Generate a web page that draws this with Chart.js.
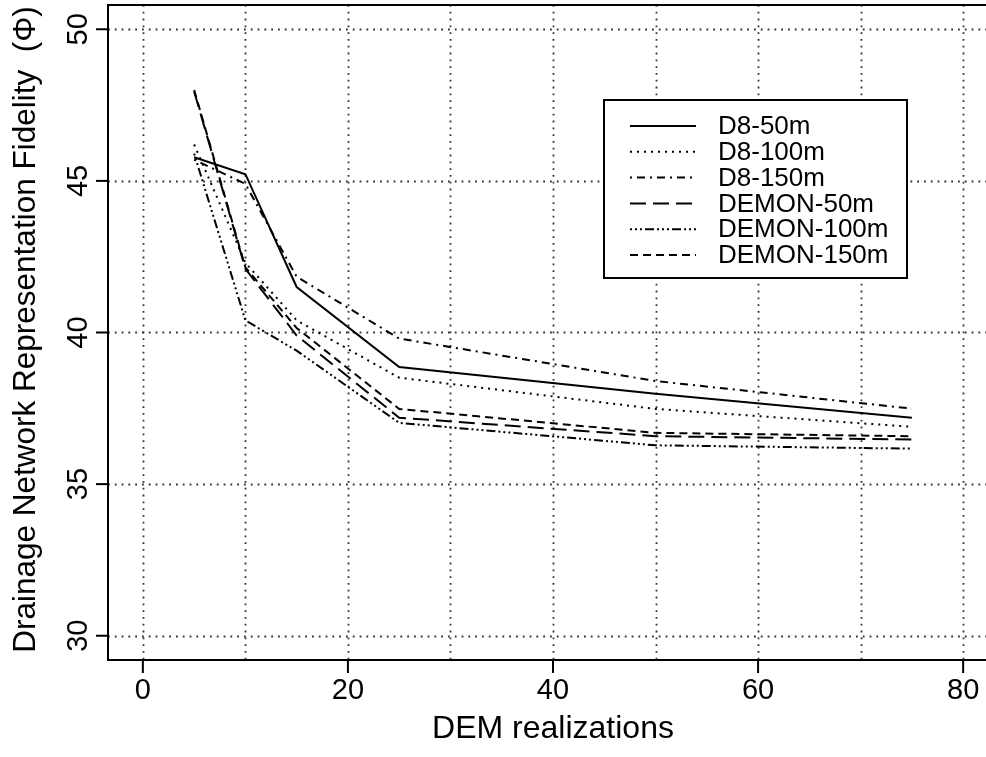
<!DOCTYPE html>
<html>
<head>
<meta charset="utf-8">
<script src="https://cdn.jsdelivr.net/npm/chart.js@4.4.0/dist/chart.umd.min.js"></script>
<style>
html, body { margin: 0; padding: 0; background: #fff; overflow: hidden; }
#wrap { position: absolute; left: 0; top: 0; width: 1010px; height: 757px; }
</style>
</head>
<body>
<div id="wrap"><canvas id="myChart" width="1010" height="757"></canvas></div>
<script>
// Daten
const realizations = [5, 10, 15, 25, 50, 75];
const d8_50 = [45.78, 45.22, 41.5, 38.86, 37.98, 37.19];
const d8_100 = [46.2, 42.3, 40.4, 38.51, 37.48, 36.89];
const d8_150 = [45.7, 44.9, 41.84, 39.8, 38.4, 37.49];
const demon_50 = [47.95, 42.1, 39.9, 37.19, 36.58, 36.47];
const demon_100 = [45.9, 40.4, 39.4, 37.02, 36.28, 36.17];
const demon_150 = [48.0, 42.15, 40.15, 37.48, 36.69, 36.58];
const seriesLabels = ['D8-50m', 'D8-100m', 'D8-150m', 'DEMON-50m', 'DEMON-100m', 'DEMON-150m'];
const xTickLabels = [0, 20, 40, 60, 80];
const xGridValues = [0, 10, 20, 30, 40, 50, 60, 70, 80];
const yTickLabels = [30, 35, 40, 45, 50];
const xTitle = 'DEM realizations';
const yTitle = 'Drainage Network Representation Fidelity  (\u03A6)';

// Linienstile wie in R (lty)
const dashes = [
    [],
    [2, 5],
    [2, 5, 8, 5],
    [16, 7],
    [2, 3, 2, 3, 2, 3, 9, 3],
    [8, 5]
];
const allSeries = [d8_50, d8_100, d8_150, demon_50, demon_100, demon_150];

const FONT = '"Liberation Sans", Arial, sans-serif';

function drawText(ctx, text, x, y, size, rot) {
    ctx.save();
    ctx.translate(x, y);
    if (rot) ctx.rotate(rot);
    ctx.font = size + 'px ' + FONT;
    ctx.fillStyle = '#000';
    ctx.textAlign = 'center';
    ctx.textBaseline = 'middle';
    ctx.fillText(text, 0, 0);
    ctx.restore();
}

const rStyle = {
    id: 'rStyle',
    beforeDatasetsDraw(chart) {
        const ctx = chart.ctx;
        const a = chart.chartArea;
        const xs = chart.scales.x, ys = chart.scales.y;
        ctx.save();
        ctx.strokeStyle = '#333';
        ctx.lineWidth = 1.8;
        ctx.setLineDash([1.8, 5]);
        xGridValues.forEach(v => {
            const px = Math.round(xs.getPixelForValue(v)) + 0.5;
            ctx.beginPath(); ctx.moveTo(px, a.top); ctx.lineTo(px, a.bottom); ctx.stroke();
        });
        yTickLabels.forEach(v => {
            const py = Math.round(ys.getPixelForValue(v)) + 0.5;
            ctx.beginPath(); ctx.moveTo(a.left, py); ctx.lineTo(a.right, py); ctx.stroke();
        });
        ctx.restore();
    },
    afterDatasetsDraw(chart) {
        const ctx = chart.ctx;
        const a = chart.chartArea;
        const xs = chart.scales.x, ys = chart.scales.y;
        ctx.save();
        ctx.strokeStyle = '#000';
        ctx.lineWidth = 2;
        ctx.setLineDash([]);
        ctx.strokeRect(a.left, a.top, a.right - a.left, a.bottom - a.top);

        // Achsenstriche und Beschriftung
        xTickLabels.forEach(v => {
            const px = xs.getPixelForValue(v);
            ctx.beginPath(); ctx.moveTo(px, a.bottom); ctx.lineTo(px, a.bottom + 13); ctx.stroke();
            drawText(ctx, String(v), px, a.bottom + 31, 29, 0);
        });
        yTickLabels.forEach(v => {
            const py = ys.getPixelForValue(v);
            ctx.beginPath(); ctx.moveTo(a.left, py); ctx.lineTo(a.left - 12, py); ctx.stroke();
            drawText(ctx, String(v), a.left - 29, py, 29, -Math.PI / 2);
        });
        drawText(ctx, xTitle, (xs.getPixelForValue(0) + xs.getPixelForValue(80)) / 2, 729, 32, 0);
        drawText(ctx, yTitle, 26, (a.top + a.bottom) / 2 - 3, 31.5, -Math.PI / 2);

        // Legende
        const lx = 604, ly = 100, lw = 303, lh = 178;
        ctx.fillStyle = '#fff';
        ctx.fillRect(lx, ly, lw, lh);
        ctx.lineWidth = 2;
        ctx.strokeRect(lx, ly, lw, lh);
        chart.data.datasets.forEach((ds, i) => {
            const yy = 126 + i * 25.8;
            ctx.save();
            ctx.lineWidth = 2;
            ctx.setLineDash(ds.borderDash);
            ctx.beginPath(); ctx.moveTo(630, yy); ctx.lineTo(696, yy); ctx.stroke();
            ctx.restore();
            ctx.save();
            ctx.font = '26px ' + FONT;
            ctx.fillStyle = '#000';
            ctx.textBaseline = 'middle';
            ctx.fillText(ds.label, 718, yy + 1);
            ctx.restore();
        });
        ctx.restore();
    }
};

const ctx = document.getElementById('myChart').getContext('2d');

const myChart = new Chart(ctx, {
    type: 'line',
    data: {
        datasets: allSeries.map((vals, i) => ({
            label: seriesLabels[i],
            data: realizations.map((x, j) => ({ x: x, y: vals[j] })),
            borderColor: '#000',
            borderWidth: 2,
            borderDash: dashes[i],
            pointRadius: 0,
            tension: 0,
            fill: false
        }))
    },
    options: {
        responsive: false,
        animation: false,
        devicePixelRatio: 1,
        layout: { padding: { top: 5, right: 12, left: 0, bottom: 0 } },
        plugins: { legend: { display: false }, tooltip: { enabled: false } },
        scales: {
            x: {
                type: 'linear',
                min: -3.4,
                max: 83.4,
                ticks: { display: false, stepSize: 10 },
                grid: { display: false },
                border: { display: false },
                afterFit: s => { s.height = 97; }
            },
            y: {
                min: 29.2,
                max: 50.8,
                ticks: { display: false, stepSize: 5 },
                grid: { display: false },
                border: { display: false },
                afterFit: s => { s.width = 108; }
            }
        }
    },
    plugins: [rStyle]
});
</script>
</body>
</html>
